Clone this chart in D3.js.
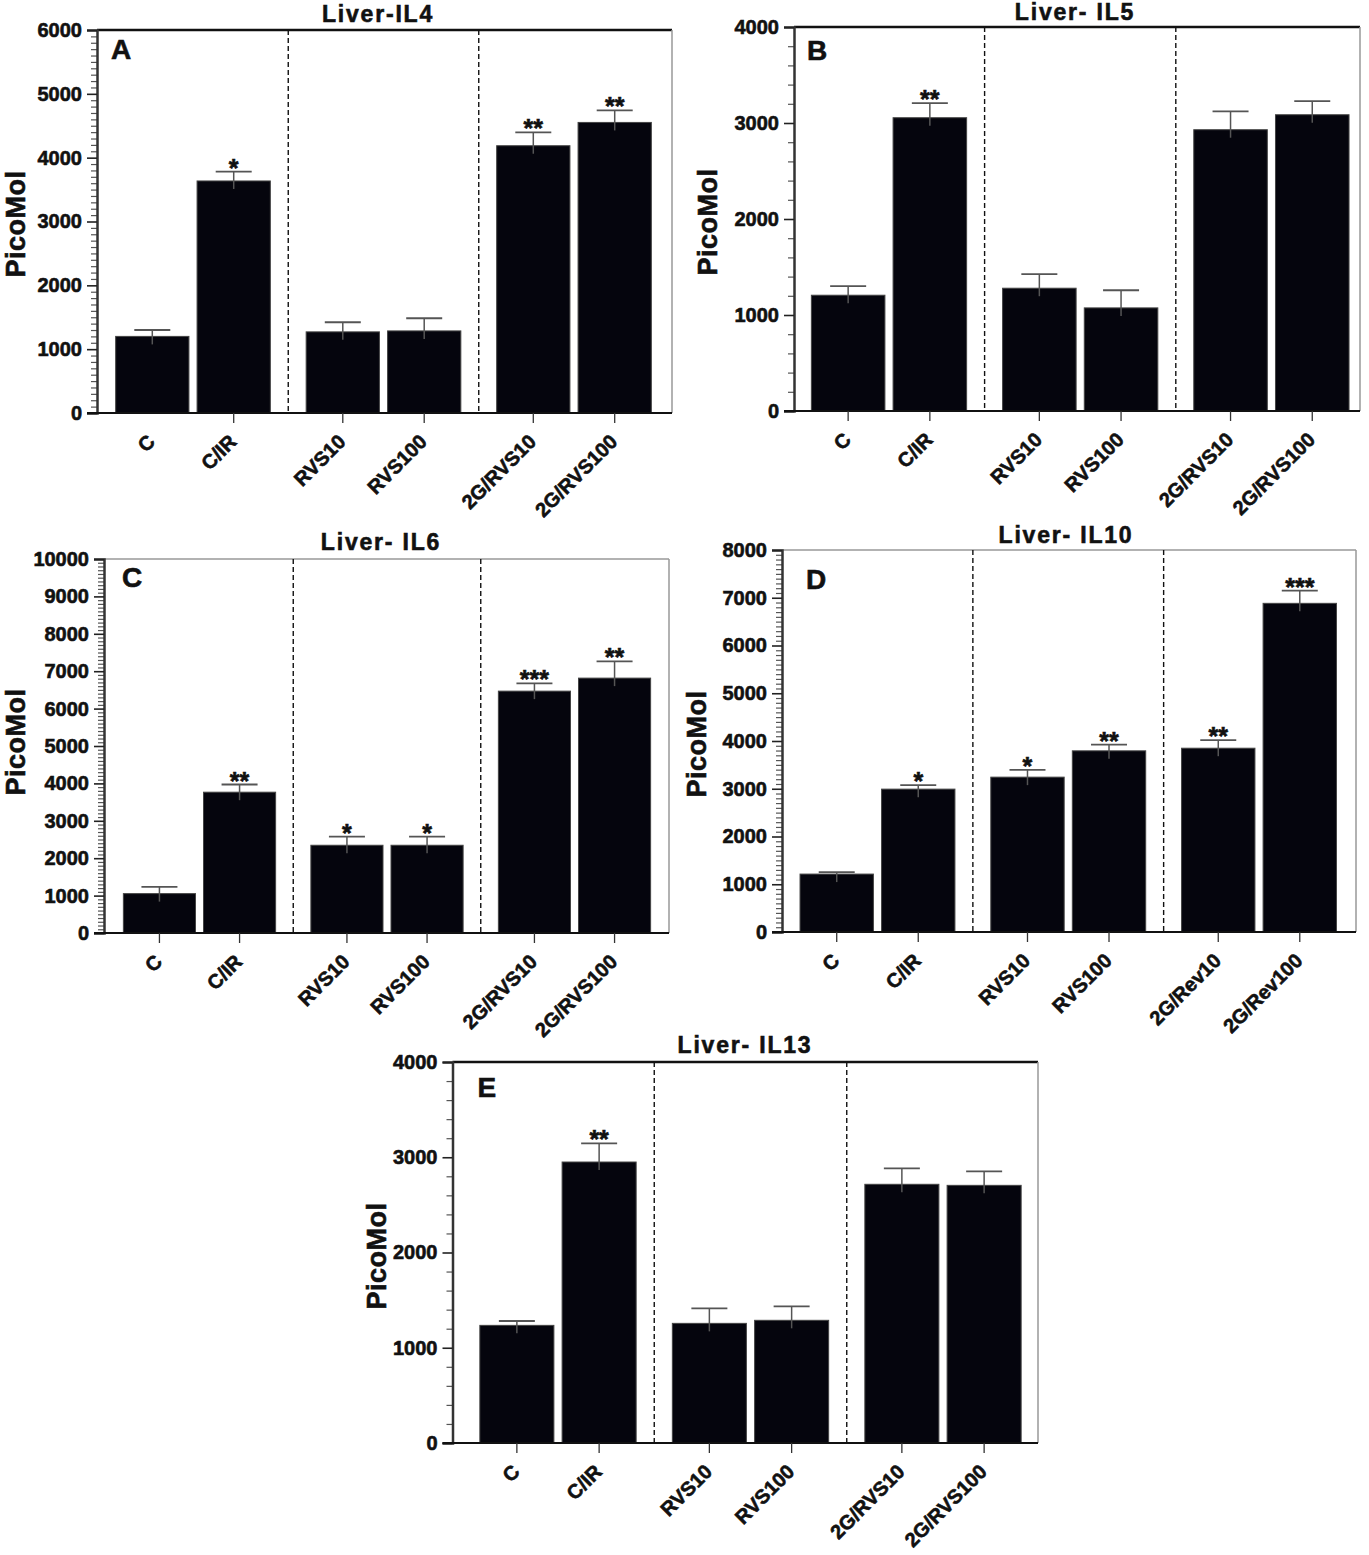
<!DOCTYPE html>
<html>
<head>
<meta charset="utf-8">
<script src="https://cdn.jsdelivr.net/npm/d3@7"></script>
<style>
  html, body { margin: 0; padding: 0; background: #fff; }
  svg { display: block; font-family: "Liberation Sans", Arial, sans-serif; }
  .heavy { stroke: #111; stroke-width: 0.6px; paint-order: stroke; }
</style>
</head>
<body>
<svg id="chart" width="1369" height="1555"></svg>
<script>
// ---------------- DATA ----------------
const categories = ["C", "C/IR", "RVS10", "RVS100", "2G/RVS10", "2G/RVS100"];
const categoriesIL10 = ["C", "C/IR", "RVS10", "RVS100", "2G/Rev10", "2G/Rev100"];
const groups = ["control", "rvs", "2g"];
const groupOf = [0, 0, 1, 1, 2, 2];

const titles = ["Liver-IL4", "Liver- IL5", "Liver- IL6", "Liver- IL10", "Liver- IL13"];
const panelLetters = ["A", "B", "C", "D", "E"];
const yAxisTitle = "PicoMol";

const il4Mean  = [1200, 3635, 1271, 1286, 4187, 4552];
const il4Err   = [100, 146, 151, 198, 209, 188];
const il4Stars = ["", "*", "", "", "**", "**"];

const il5Mean  = [1206, 3055, 1279, 1074, 2930, 3086];
const il5Err   = [94, 153, 146, 184, 191, 142];
const il5Stars = ["", "**", "", "", "", ""];

const il6Mean  = [1053, 3765, 2346, 2346, 6467, 6815];
const il6Err   = [178, 205, 232, 232, 206, 446];
const il6Stars = ["", "**", "*", "*", "***", "**"];

const il10Mean  = [1213, 2992, 3243, 3794, 3849, 6883];
const il10Err   = [42, 83, 153, 132, 168, 265];
const il10Stars = ["", "*", "*", "**", "**", "***"];

const il13Mean  = [1235, 2950, 1256, 1288, 2716, 2705];
const il13Err   = [46, 196, 158, 147, 168, 147];
const il13Stars = ["", "**", "", "", "", ""];

const yTicksIL4  = [0, 1000, 2000, 3000, 4000, 5000, 6000];
const yTicksIL5  = [0, 1000, 2000, 3000, 4000];
const yTicksIL6  = [0, 1000, 2000, 3000, 4000, 5000, 6000, 7000, 8000, 9000, 10000];
const yTicksIL10 = [0, 1000, 2000, 3000, 4000, 5000, 6000, 7000, 8000];
const yTicksIL13 = [0, 1000, 2000, 3000, 4000];

// ---------------- LAYOUT (positions / styles only) ----------------
const layout = [
  { ax: 97,   right: 672,  top: 30,   bottom: 413, gx0: 97.75, gx1: 669.25, minor: 100,
    titleX: 378, titleY: 22,  letterX: 111, letterY: 59,  ylabX: 25, ylabY: 224,
    frameTop: "#111", hideFirstTick: true },
  { ax: 794,  right: 1360, top: 27,   bottom: 411, gx0: 793.4, gx1: 1367,   minor: 200,
    titleX: 1075, titleY: 20, letterX: 807, letterY: 60,  ylabX: 717, ylabY: 222,
    frameTop: "#111" },
  { ax: 104,  right: 669,  top: 559,  bottom: 933, gx0: 105.75, gx1: 668.25, minor: 100,
    titleX: 381, titleY: 550, letterX: 122, letterY: 587, ylabX: 25, ylabY: 742,
    frameTop: "#999" },
  { ax: 782,  right: 1356, top: 550,  bottom: 932, gx0: 782.1, gx1: 1354.4, minor: 100,
    titleX: 1066, titleY: 543, letterX: 806, letterY: 589, ylabX: 706, ylabY: 744,
    frameTop: "#999" },
  { ax: 452.5, right: 1038, top: 1062, bottom: 1443, gx0: 461.75, gx1: 1039.25, minor: 200,
    titleX: 745, titleY: 1053, letterX: 477.5, letterY: 1097, ylabX: 386, ylabY: 1256,
    frameTop: "#111" }
];

const panelData = [
  { cats: categories,     mean: il4Mean,  err: il4Err,  stars: il4Stars,  ticks: yTicksIL4 },
  { cats: categories,     mean: il5Mean,  err: il5Err,  stars: il5Stars,  ticks: yTicksIL5 },
  { cats: categories,     mean: il6Mean,  err: il6Err,  stars: il6Stars,  ticks: yTicksIL6 },
  { cats: categoriesIL10, mean: il10Mean, err: il10Err, stars: il10Stars, ticks: yTicksIL10 },
  { cats: categories,     mean: il13Mean, err: il13Err, stars: il13Stars, ticks: yTicksIL13 }
];

const svg = d3.select("#chart");

panelData.forEach((pd, pi) => {
  const L = layout[pi];
  const g = svg.append("g");

  const ymax = d3.max(pd.ticks);
  const y = d3.scaleLinear().domain([0, ymax]).range([L.bottom, L.top]);
  const xg = d3.scaleBand().domain(groups).range([L.gx0, L.gx1]).padding(0);
  const xi = d3.scaleBand().domain([0, 1]).range([0, xg.bandwidth()])
    .paddingInner(0.1).paddingOuter(0.22);

  const rows = pd.cats.map((c, i) => ({
    cat: c, i, mean: pd.mean[i], err: pd.err[i], star: pd.stars[i],
    x0: xg(groups[groupOf[i]]) + xi(i % 2), w: xi.bandwidth()
  }));
  rows.forEach(r => r.cx = r.x0 + r.w / 2);

  // frame top & right
  g.append("line").attr("x1", L.ax).attr("x2", L.right).attr("y1", L.top).attr("y2", L.top)
    .attr("stroke", L.frameTop).attr("stroke-width", L.frameTop === "#111" ? 2.5 : 1.5);
  g.append("line").attr("x1", L.right).attr("x2", L.right).attr("y1", L.top).attr("y2", L.bottom)
    .attr("stroke", "#999").attr("stroke-width", 1.5);

  // dashed separators between groups
  g.selectAll(".sep").data(groups.slice(1)).join("line")
    .attr("x1", d => xg(d)).attr("x2", d => xg(d))
    .attr("y1", L.top).attr("y2", L.bottom)
    .attr("stroke", "#111").attr("stroke-width", 1.4).attr("stroke-dasharray", "5,3");

  // bars
  g.selectAll(".bar").data(rows).join("rect")
    .attr("x", d => d.x0).attr("width", d => d.w)
    .attr("y", d => y(d.mean)).attr("height", d => y(0) - y(d.mean))
    .attr("fill", "#05050d").attr("stroke", "#444").attr("stroke-width", 1);

  // error bars
  g.selectAll(".ev").data(rows).join("line")
    .attr("x1", d => d.cx).attr("x2", d => d.cx)
    .attr("y1", d => y(d.mean) + 8).attr("y2", d => y(d.mean + d.err))
    .attr("stroke", "#555").attr("stroke-width", 1.5);
  g.selectAll(".ec").data(rows).join("line")
    .attr("x1", d => d.cx - 18).attr("x2", d => d.cx + 18)
    .attr("y1", d => y(d.mean + d.err)).attr("y2", d => y(d.mean + d.err))
    .attr("stroke", "#555").attr("stroke-width", 1.8);

  // significance stars
  g.selectAll(".star").data(rows.filter(d => d.star)).join("text")
    .attr("class", "heavy")
    .attr("x", d => d.cx).attr("y", d => y(d.mean + d.err) + 5)
    .attr("text-anchor", "middle").attr("font-size", 25).attr("font-weight", "bold")
    .attr("fill", "#111").text(d => d.star);

  // minor y ticks
  const minorVals = d3.range(0, ymax + 1, L.minor).filter(v => !pd.ticks.includes(v));
  g.append("g").attr("transform", `translate(${L.ax},0)`)
    .call(d3.axisLeft(y).tickValues(minorVals).tickSize(6).tickFormat(""))
    .call(s => s.select(".domain").remove())
    .call(s => s.selectAll(".tick line").attr("stroke", "#555").attr("stroke-width", 1.2));

  // major y axis
  g.append("g").attr("transform", `translate(${L.ax},0)`)
    .call(d3.axisLeft(y).tickValues(pd.ticks).tickSize(10).tickPadding(5).tickFormat(d3.format("d")))
    .call(s => s.select(".domain").attr("stroke", "#333").attr("stroke-width", 2.5))
    .call(s => s.selectAll(".tick line").attr("stroke", "#222").attr("stroke-width", 1.6))
    .call(s => s.selectAll(".tick text").attr("class", "heavy").attr("font-size", 20).attr("font-weight", "bold")
      .attr("fill", "#111").attr("font-family", '"Liberation Sans", Arial, sans-serif'));

  // x axis baseline
  g.append("line").attr("x1", L.ax - 10).attr("x2", L.right).attr("y1", L.bottom).attr("y2", L.bottom)
    .attr("stroke", "#111").attr("stroke-width", 2.2);

  // x ticks
  g.selectAll(".xt").data(rows.filter(d => !(L.hideFirstTick && d.i === 0))).join("line")
    .attr("x1", d => d.cx).attr("x2", d => d.cx)
    .attr("y1", L.bottom).attr("y2", L.bottom + 10)
    .attr("stroke", "#333").attr("stroke-width", 1.3);

  // x labels
  g.selectAll(".xl").data(rows).join("text")
    .attr("class", "heavy")
    .attr("transform", d => `translate(${d.cx + 4},${L.bottom + 30}) rotate(-45)`)
    .attr("text-anchor", "end").attr("font-size", 20).attr("font-weight", "bold")
    .attr("fill", "#111").text(d => d.cat);

  // title
  g.append("text").attr("class", "heavy").attr("x", L.titleX).attr("y", L.titleY).attr("text-anchor", "middle")
    .attr("font-size", 23).attr("font-weight", "bold").attr("letter-spacing", 1.8)
    .attr("fill", "#111").text(titles[pi]);

  // panel letter
  g.append("text").attr("class", "heavy").attr("x", L.letterX).attr("y", L.letterY)
    .attr("font-size", 28).attr("font-weight", "bold").attr("fill", "#111")
    .text(panelLetters[pi]);

  // y axis title
  g.append("text").attr("class", "heavy").attr("transform", `translate(${L.ylabX},${L.ylabY}) rotate(-90)`)
    .attr("text-anchor", "middle").attr("font-size", 27).attr("font-weight", "bold")
    .attr("letter-spacing", 0.5)
    .attr("fill", "#111").text(yAxisTitle);
});
</script>
</body>
</html>
